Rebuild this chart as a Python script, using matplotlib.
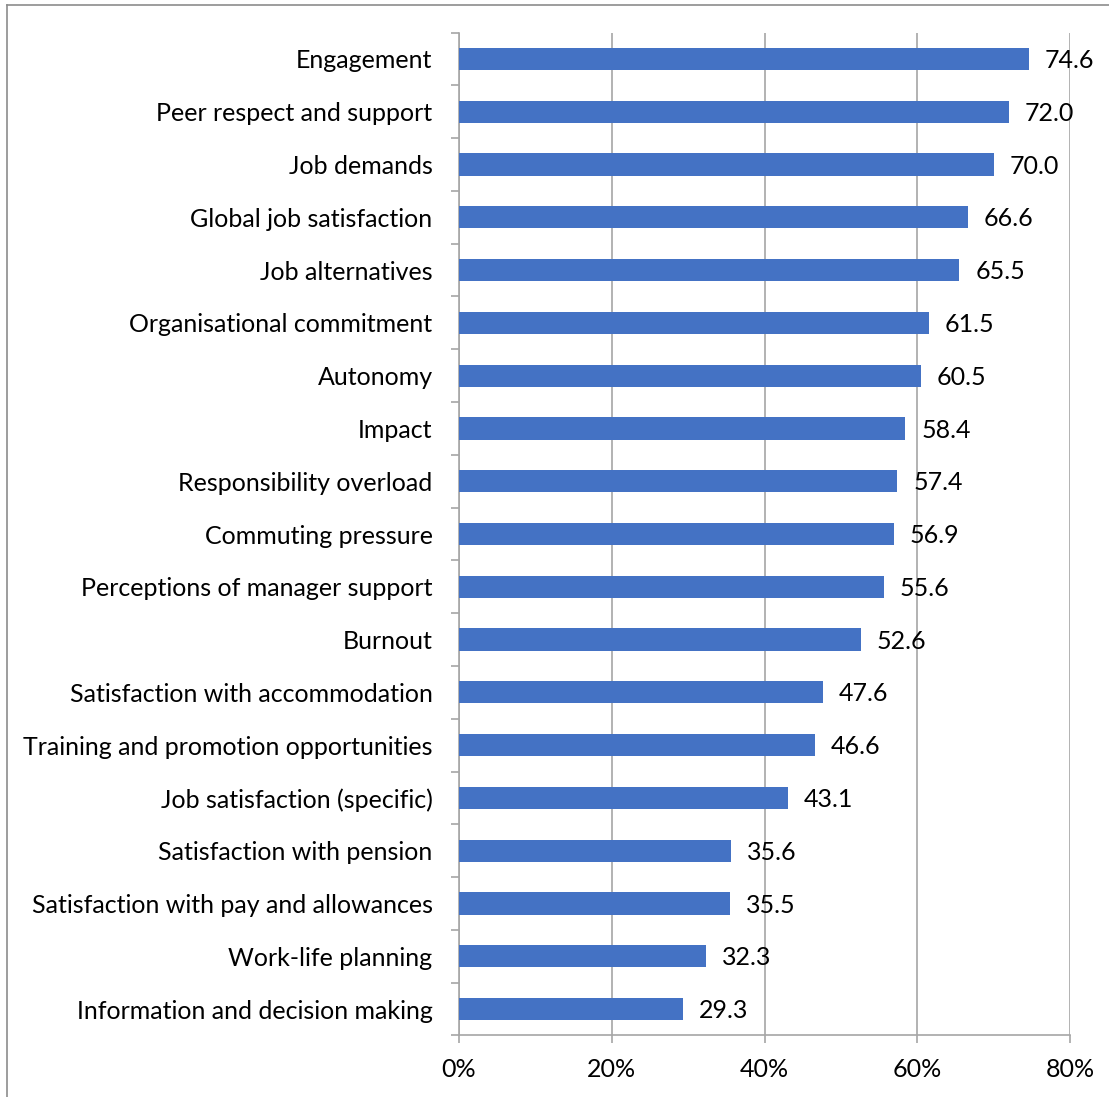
import matplotlib
matplotlib.use("Agg")
import matplotlib.pyplot as plt
from matplotlib.ticker import FuncFormatter, FixedLocator
import numpy as np

categories = [
    "Engagement",
    "Peer respect and support",
    "Job demands",
    "Global job satisfaction",
    "Job alternatives",
    "Organisational commitment",
    "Autonomy",
    "Impact",
    "Responsibility overload",
    "Commuting pressure",
    "Perceptions of manager support",
    "Burnout",
    "Satisfaction with accommodation",
    "Training and promotion opportunities",
    "Job satisfaction (specific)",
    "Satisfaction with pension",
    "Satisfaction with pay and allowances",
    "Work-life planning",
    "Information and decision making",
]
values = [74.6, 72.0, 70.0, 66.6, 65.5, 61.5, 60.5, 58.4, 57.4, 56.9,
          55.6, 52.6, 47.6, 46.6, 43.1, 35.6, 35.5, 32.3, 29.3]
x_ticks = [0, 20, 40, 60, 80]

plt.rcParams['font.family'] = ['Lato', 'DejaVu Sans']
FS = 18

W, H = 1109, 1097
fig = plt.figure(figsize=(W / 100, H / 100), dpi=100)

ax = fig.add_axes([459 / W, 1 - 1035.4 / H, (1070 - 459) / W, (1035.4 - 32.6) / H])

grey = "#A6A6A6"
bar_color = "#4472C4"
n = len(categories)
y = np.arange(n)

ax.barh(y, values, height=0.42, color=bar_color, zorder=3)
ax.set_ylim(n - 0.5, -0.5)
ax.set_xlim(0, 80)

for yi, v in zip(y, values):
    ax.text(v + 2.1, yi + 0.03, f"{v:.1f}", va="center", ha="left",
            fontsize=FS, color="black", zorder=4)

ax.xaxis.set_major_locator(FixedLocator(x_ticks))
ax.xaxis.set_major_formatter(FuncFormatter(lambda v, p: f"{v:.0f}%"))
ax.grid(axis="x", color=grey, linewidth=1.2, zorder=0)

# category labels on major ticks, tick marks at the category boundaries
ax.set_yticks(y)
ax.set_yticklabels(categories, fontsize=FS)
ax.tick_params(axis="y", which="major", length=0, pad=19)
ax.set_yticks(np.arange(-0.5, n, 1.0), minor=True)
ax.tick_params(axis="y", which="minor", length=6, color=grey, width=1.2, direction="out")
ax.tick_params(axis="x", length=6, color=grey, width=1.2, labelsize=FS, pad=10)

for s in ["top", "right"]:
    ax.spines[s].set_visible(False)
for s in ["left", "bottom"]:
    ax.spines[s].set_color(grey)
    ax.spines[s].set_linewidth(1.2)

# outer frame around the chart area
fig.add_artist(plt.Line2D([7 / W, 7 / W], [0, 1 - 5 / H], transform=fig.transFigure,
                          color="#8C8C8C", linewidth=1.2))
fig.add_artist(plt.Line2D([7 / W, 1], [1 - 5 / H, 1 - 5 / H], transform=fig.transFigure,
                          color="#8C8C8C", linewidth=1.2))

fig.savefig("out.png", dpi=100)
